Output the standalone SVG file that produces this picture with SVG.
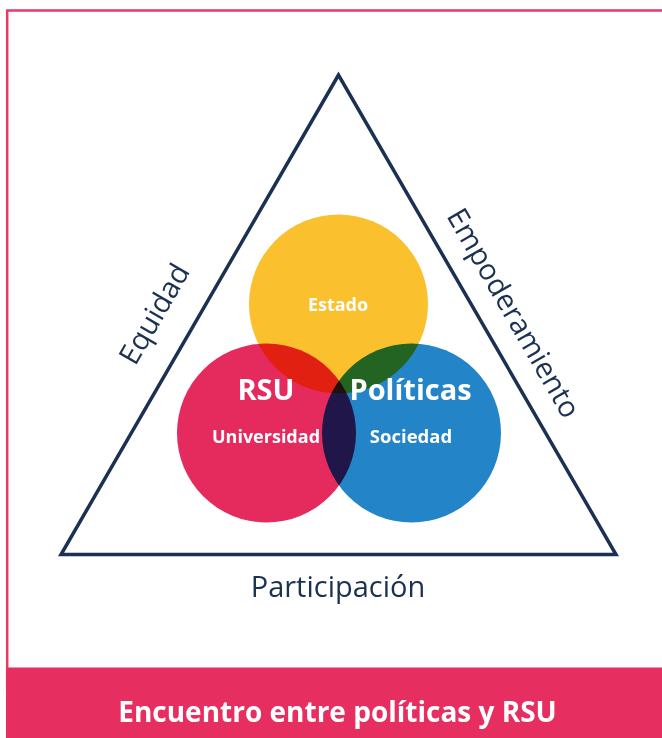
<svg xmlns="http://www.w3.org/2000/svg" width="662" height="738" viewBox="0 0 662 738">
  <style>
    .lbl { font-family: "Open Sans", "Liberation Sans", sans-serif; font-size: 29px; fill: #1b3152; text-anchor: middle; }
    .w { font-family: "Open Sans", "Liberation Sans", sans-serif; font-weight: bold; fill: #ffffff; text-anchor: middle; }
    .c { mix-blend-mode: multiply; }
  </style>
  <rect x="0" y="0" width="662" height="738" fill="#ffffff"/>
  <g id="frame">
    <rect x="7.2" y="10.5" width="700" height="680" fill="none" stroke="#e8396a" stroke-width="2.5"/>
  </g>
  <g id="connectors">
    <polygon points="338.5,75 61,554.5 616,554.5" fill="none" stroke="#1b3152" stroke-width="3.5" stroke-linejoin="miter"/>
  </g>
  <g id="circles" style="isolation:isolate">
    <circle id="estado" class="c" cx="338.5" cy="304" r="89.5" fill="#fbc02d"/>
    <circle id="rsu" class="c" cx="266.5" cy="433" r="89.5" fill="#e52a5e"/>
    <circle id="politicas" class="c" cx="411.5" cy="433" r="89.5" fill="#2385c7"/>
  </g>
  <g id="estado-label">
    <text class="w" x="338" y="311" font-size="18">Estado</text>
  </g>
  <g id="rsu-label">
    <text class="w" x="266" y="400" font-size="29">RSU</text>
    <text class="w" x="266" y="443" font-size="18">Universidad</text>
  </g>
  <g id="politicas-label">
    <text class="w" x="410.5" y="400" font-size="29">Políticas</text>
    <text class="w" x="411" y="443" font-size="18.5">Sociedad</text>
  </g>
  <g id="equidad">
    <text class="lbl" transform="translate(163,319) rotate(-60)">Equidad</text>
  </g>
  <g id="empoderamiento">
    <text class="lbl" transform="translate(505,318) rotate(60)">Empoderamiento</text>
  </g>
  <g id="participacion">
    <text class="lbl" x="338" y="597">Participación</text>
  </g>
  <g id="banner">
    <rect x="6" y="667.5" width="656" height="70.5" fill="#e62e60"/>
    <text class="w" x="337.5" y="722" font-size="28">Encuentro entre políticas y RSU</text>
  </g>
</svg>
